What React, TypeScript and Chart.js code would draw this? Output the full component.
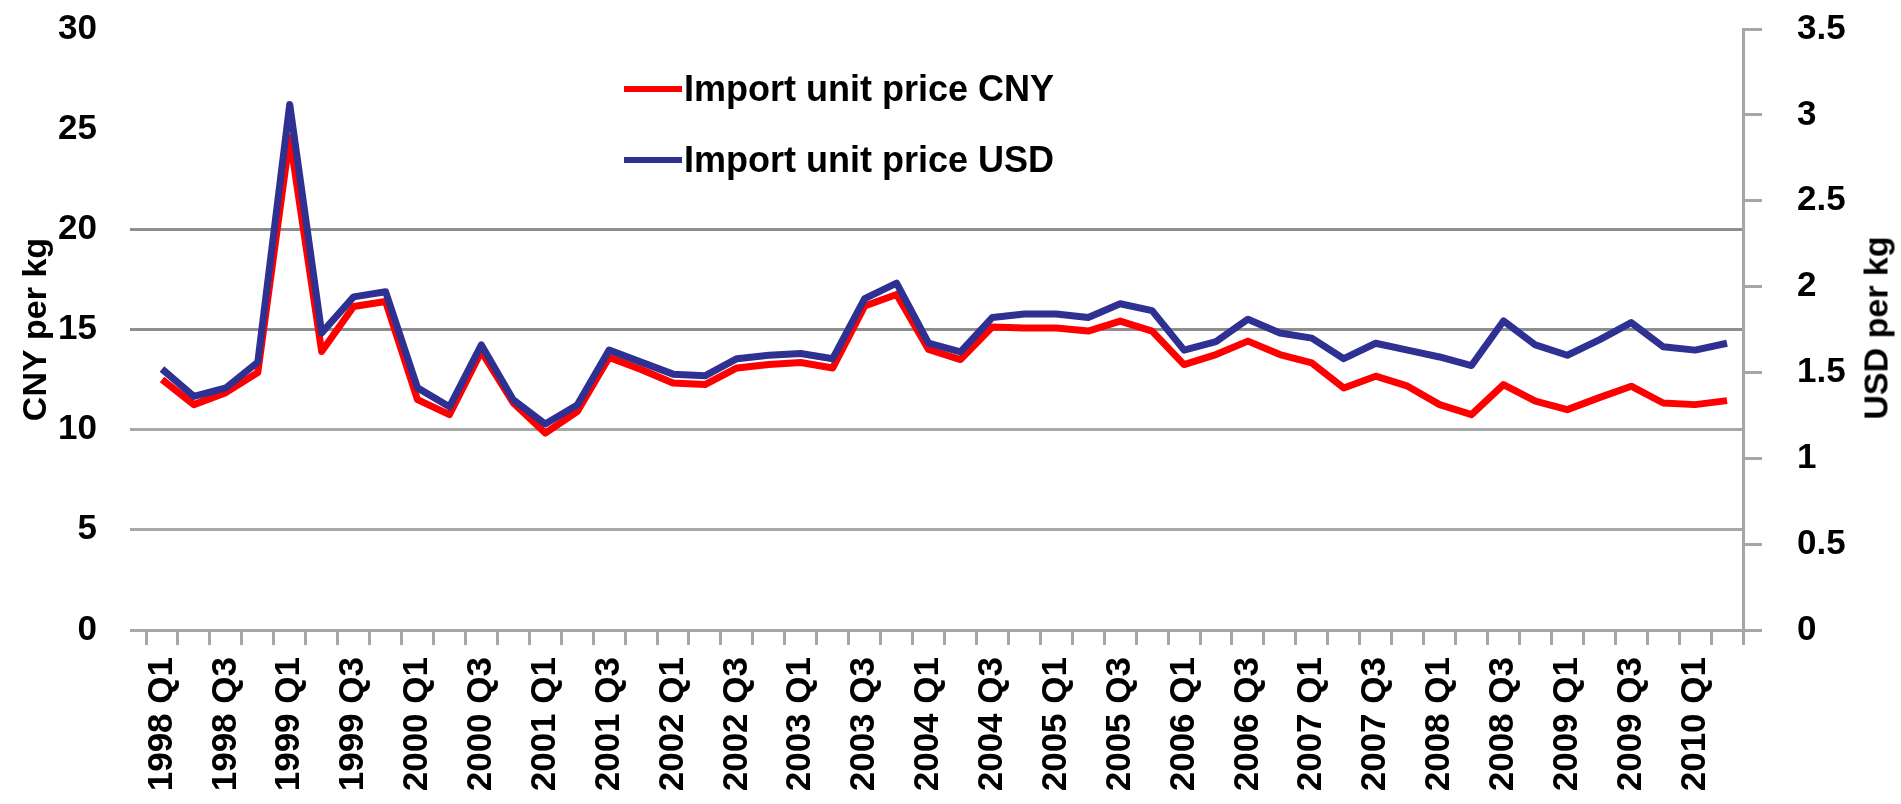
import React, { useEffect, useRef } from "react";
import { Chart, registerables } from "chart.js";

Chart.register(...registerables);

const quarterLabels: string[] = [
  "1998 Q1", "1998 Q2", "1998 Q3", "1998 Q4",
  "1999 Q1", "1999 Q2", "1999 Q3", "1999 Q4",
  "2000 Q1", "2000 Q2", "2000 Q3", "2000 Q4",
  "2001 Q1", "2001 Q2", "2001 Q3", "2001 Q4",
  "2002 Q1", "2002 Q2", "2002 Q3", "2002 Q4",
  "2003 Q1", "2003 Q2", "2003 Q3", "2003 Q4",
  "2004 Q1", "2004 Q2", "2004 Q3", "2004 Q4",
  "2005 Q1", "2005 Q2", "2005 Q3", "2005 Q4",
  "2006 Q1", "2006 Q2", "2006 Q3", "2006 Q4",
  "2007 Q1", "2007 Q2", "2007 Q3", "2007 Q4",
  "2008 Q1", "2008 Q2", "2008 Q3", "2008 Q4",
  "2009 Q1", "2009 Q2", "2009 Q3", "2009 Q4",
  "2010 Q1", "2010 Q2",
];

// Import unit price, CNY per kg (left axis)
const cnyPrice: number[] = [
  12.5, 11.25, 11.85, 12.85, 24.6, 13.9, 16.15, 16.4,
  11.5, 10.75, 13.9, 11.33, 9.83, 10.9, 13.6, 13.0,
  12.33, 12.25, 13.08, 13.25, 13.35, 13.08, 16.17, 16.75,
  14.0, 13.5, 15.13, 15.08, 15.08, 14.92, 15.42, 14.92,
  13.25, 13.75, 14.42, 13.75, 13.33, 12.08, 12.67, 12.17,
  11.25, 10.75, 12.25, 11.42, 11.0, 11.6, 12.17, 11.33,
  11.25, 11.45,
];

// Import unit price, USD per kg (right axis)
const usdPrice: number[] = [
  1.52, 1.36, 1.41, 1.56, 3.06, 1.73, 1.94, 1.97,
  1.41, 1.30, 1.66, 1.34, 1.20, 1.31, 1.63, 1.56,
  1.49, 1.48, 1.58, 1.60, 1.61, 1.58, 1.93, 2.02,
  1.67, 1.62, 1.82, 1.84, 1.84, 1.82, 1.90, 1.86,
  1.63, 1.68, 1.81, 1.73, 1.70, 1.58, 1.67, 1.63,
  1.59, 1.54, 1.80, 1.66, 1.60, 1.69, 1.79, 1.65,
  1.63, 1.67,
];

const seriesNames: string[] = ["Import unit price CNY", "Import unit price USD"];
const seriesColors: string[] = ["#ff0000", "#2e3192"];
const axisTitles: string[] = ["CNY per kg", "USD per kg"];

const FONT = "'Liberation Sans', Arial, sans-serif";

export default function App() {
  const canvasRef = useRef<HTMLCanvasElement | null>(null);

  useEffect(() => {
    if (!canvasRef.current) return;
    const chart = new Chart(canvasRef.current, {
      type: "line",
      data: {
        labels: quarterLabels,
        datasets: [
          {
            label: seriesNames[0],
            data: cnyPrice,
            yAxisID: "y",
            borderColor: seriesColors[0],
            backgroundColor: seriesColors[0],
            borderWidth: 7,
            pointRadius: 0,
            tension: 0,
            borderJoinStyle: "round",
            order: 2,
          },
          {
            label: seriesNames[1],
            data: usdPrice,
            yAxisID: "y1",
            borderColor: seriesColors[1],
            backgroundColor: seriesColors[1],
            borderWidth: 7,
            pointRadius: 0,
            tension: 0,
            borderJoinStyle: "round",
            order: 1,
          },
        ],
      },
      options: {
        animation: false,
        responsive: true,
        maintainAspectRatio: false,
        layout: { padding: { top: 29, left: 0, right: 0, bottom: 0 } },
        plugins: {
          legend: { display: false },
          tooltip: { enabled: false },
        },
        scales: {
          x: {
            type: "category",
            offset: true,
            afterFit: (scale: any) => {
              scale.height = 174;
            },
            grid: {
              offset: true,
              drawOnChartArea: false,
              drawTicks: true,
              tickLength: 15,
              color: "#a6a6a6",
              lineWidth: 3,
            },
            border: { display: true, color: "#a6a6a6", width: 3 },
            ticks: {
              autoSkip: false,
              maxRotation: 90,
              minRotation: 90,
              padding: 12,
              color: "#000000",
              font: { family: FONT, size: 35, weight: "bold" },
              callback: (_v: any, i: number) => (i % 2 === 0 ? quarterLabels[i] : ""),
            },
          },
          y: {
            position: "left",
            min: 0,
            max: 30,
            afterFit: (scale: any) => {
              scale.width = 146;
              scale.paddingTop = 0;
              scale.paddingBottom = 0;
            },
            grid: {
              drawTicks: true,
              tickLength: 16,
              lineWidth: 3,
              color: (ctx: any) => {
                const v = ctx.tick ? ctx.tick.value : 0;
                if (v > 20) return "rgba(0,0,0,0)";
                return v >= 15 ? "#8e8e8e" : "#a8a8a8";
              },
            },
            border: { display: false },
            ticks: {
              stepSize: 5,
              padding: 33,
              color: "#000000",
              font: { family: FONT, size: 35, weight: "bold" },
            },
            title: {
              display: true,
              text: axisTitles[0],
              color: "#000000",
              padding: { top: 16, bottom: 0 },
              font: { family: FONT, size: 34, weight: "bold" },
            },
          },
          y1: {
            position: "right",
            min: 0,
            max: 3.5,
            afterFit: (scale: any) => {
              scale.width = 158;
              scale.paddingTop = 0;
              scale.paddingBottom = 0;
            },
            grid: {
              drawOnChartArea: false,
              drawTicks: true,
              tickLength: 19,
              color: "#a6a6a6",
              lineWidth: 3,
            },
            border: { display: true, color: "#a6a6a6", width: 3 },
            ticks: {
              stepSize: 0.5,
              padding: 35,
              color: "#000000",
              font: { family: FONT, size: 35, weight: "bold" },
              callback: (v: any) => String(Number(v)),
            },
          },
        },
      },
    });
    return () => chart.destroy();
  }, []);

  const legendRow = (i: number, centerY: number) => (
    <div
      key={i}
      style={{
        position: "absolute",
        left: 624,
        top: centerY - 22,
        height: 44,
        display: "flex",
        alignItems: "center",
        whiteSpace: "nowrap",
        fontFamily: FONT,
        fontWeight: "bold",
        fontSize: 36,
        color: "#000000",
      }}
    >
      <span
        style={{
          display: "inline-block",
          width: 58,
          height: 6,
          background: seriesColors[i],
          marginRight: 2,
        }}
      />
      <span>{seriesNames[i]}</span>
    </div>
  );

  return (
    <div
      style={{
        position: "fixed",
        left: 0,
        top: 0,
        width: 1901,
        height: 804,
        background: "#ffffff",
      }}
    >
      <canvas ref={canvasRef} />
      {legendRow(0, 89)}
      {legendRow(1, 160)}
      <div
        style={{
          position: "absolute",
          left: 1876,
          top: 328,
          transform: "translate(-50%, -50%) rotate(-90deg)",
          whiteSpace: "nowrap",
          fontFamily: FONT,
          fontWeight: "bold",
          fontSize: 34,
          color: "#000000",
        }}
      >
        {axisTitles[1]}
      </div>
    </div>
  );
}
